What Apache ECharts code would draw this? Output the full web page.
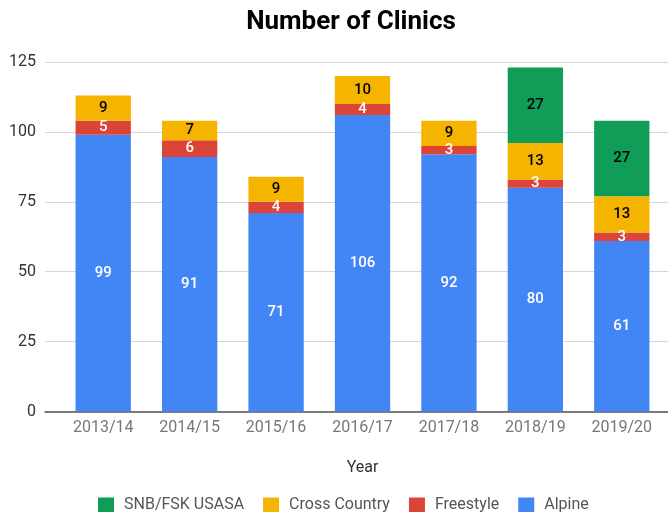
<!DOCTYPE html>
<html>
<head>
<meta charset="utf-8">
<script src="https://cdn.jsdelivr.net/npm/echarts@6/dist/echarts.min.js"></script>
<style>
  html, body { margin: 0; padding: 0; background: #fff; }
  #chart { width: 668px; height: 512px; }
</style>
</head>
<body>
<div id="chart"></div>
<script>
var years = ['2013/14', '2014/15', '2015/16', '2016/17', '2017/18', '2018/19', '2019/20'];
var alpine = [99, 91, 71, 106, 92, 80, 61];
var freestyle = [5, 6, 4, 4, 3, 3, 3];
var crossCountry = [9, 7, 9, 10, 9, 13, 13];
var snbFsk = [null, null, null, null, null, 27, 27];
var yTicks = { min: 0, max: 125, interval: 25 };

var chart = echarts.init(document.getElementById('chart'));

function seriesOf(name, data, color, labelColor) {
  return {
    name: name,
    type: 'bar',
    stack: 'total',
    xAxisIndex: 1,
    yAxisIndex: 1,
    barWidth: '64%',
    data: data,
    itemStyle: { color: color },
    label: {
      show: true,
      position: 'inside',
      color: labelColor,
      fontSize: 15,
      fontFamily: 'Roboto',
      fontWeight: 500
    }
  };
}

chart.setOption({
  animation: false,
  textStyle: { fontFamily: 'Roboto' },
  title: {
    text: 'Number of Clinics',
    left: 346,
    textAlign: 'center',
    top: 4,
    textStyle: { fontSize: 26, fontWeight: 'bold', color: '#000', fontFamily: 'Roboto' }
  },
  legend: {
    top: 492,
    left: 93,
    itemWidth: 16,
    itemHeight: 15,
    itemGap: 19,
    icon: 'rect',
    textStyle: { fontSize: 16, color: '#555', padding: [0, 0, 0, 5] },
    data: ['SNB/FSK USASA', 'Cross Country', 'Freestyle', 'Alpine']
  },
  grid: [
    // background grid: gridlines and axis line span the full width
    { left: 45, right: 0, top: 62, bottom: 100.5 },
    // bars grid
    { left: 60, right: 3, top: 62, bottom: 100.5 }
  ],
  xAxis: [
    {
      type: 'category',
      gridIndex: 0,
      data: years,
      axisTick: { show: false },
      axisLabel: { show: false },
      axisLine: { lineStyle: { color: '#555', width: 1.5 } }
    },
    {
      type: 'category',
      gridIndex: 1,
      data: years,
      name: 'Year',
      nameLocation: 'middle',
      nameGap: 48,
      nameTextStyle: { fontSize: 16, color: '#333' },
      axisTick: { show: false },
      axisLine: { show: false },
      axisLabel: { fontSize: 16, color: '#777', margin: 8 }
    }
  ],
  yAxis: [
    {
      type: 'value',
      gridIndex: 0,
      min: yTicks.min,
      max: yTicks.max,
      interval: yTicks.interval,
      axisLabel: { fontSize: 16, color: '#333', margin: 9 },
      splitLine: { lineStyle: { color: '#d6d6d6' } }
    },
    {
      type: 'value',
      gridIndex: 1,
      min: yTicks.min,
      max: yTicks.max,
      interval: yTicks.interval,
      axisLabel: { show: false },
      splitLine: { show: false }
    }
  ],
  series: [
    seriesOf('Alpine', alpine, '#4285F4', '#fff'),
    seriesOf('Freestyle', freestyle, '#DB4437', '#fff'),
    seriesOf('Cross Country', crossCountry, '#F4B400', '#000'),
    seriesOf('SNB/FSK USASA', snbFsk, '#0F9D58', '#000')
  ]
});
</script>
</body>
</html>
